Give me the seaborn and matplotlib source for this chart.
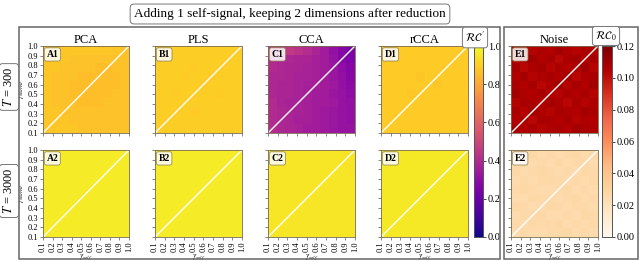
import numpy as np
import matplotlib
matplotlib.use("Agg")
import matplotlib.pyplot as plt
import seaborn as sns
from matplotlib.patches import Rectangle

plt.rcParams["font.family"] = ["Liberation Serif", "DejaVu Serif"]
plt.rcParams["mathtext.fontset"] = "stix"

# ---------------- data (rows: gamma_shared 1.0 -> 0.1, cols: gamma_self 0.1 -> 1.0)
tick_vals = [0.1, 0.2, 0.3, 0.4, 0.5, 0.6, 0.7, 0.8, 0.9, 1.0]
tick_labels = ["0.1", "0.2", "0.3", "0.4", "0.5", "0.6", "0.7", "0.8", "0.9", "1.0"]
methods = ["PCA", "PLS", "CCA", "rCCA"]

pca_300 = [
    [0.88, 0.88, 0.88, 0.88, 0.88, 0.88, 0.88, 0.88, 0.88, 0.87],
    [0.88, 0.88, 0.88, 0.87, 0.87, 0.87, 0.87, 0.87, 0.87, 0.87],
    [0.88, 0.88, 0.87, 0.87, 0.87, 0.87, 0.86, 0.86, 0.87, 0.87],
    [0.88, 0.87, 0.87, 0.87, 0.86, 0.86, 0.86, 0.86, 0.86, 0.87],
    [0.88, 0.87, 0.87, 0.86, 0.86, 0.86, 0.86, 0.86, 0.86, 0.87],
    [0.88, 0.87, 0.87, 0.86, 0.86, 0.86, 0.86, 0.86, 0.87, 0.87],
    [0.88, 0.87, 0.87, 0.87, 0.86, 0.86, 0.86, 0.87, 0.87, 0.87],
    [0.88, 0.88, 0.87, 0.87, 0.87, 0.87, 0.87, 0.87, 0.87, 0.87],
    [0.88, 0.88, 0.88, 0.87, 0.87, 0.87, 0.87, 0.87, 0.87, 0.87],
    [0.88, 0.88, 0.88, 0.88, 0.87, 0.87, 0.87, 0.87, 0.87, 0.87],
]
pls_300 = [
    [0.90, 0.90, 0.90, 0.90, 0.90, 0.90, 0.90, 0.90, 0.90, 0.90],
    [0.90, 0.90, 0.90, 0.90, 0.90, 0.90, 0.90, 0.90, 0.90, 0.90],
    [0.90, 0.90, 0.90, 0.90, 0.89, 0.90, 0.90, 0.90, 0.90, 0.90],
    [0.90, 0.90, 0.90, 0.89, 0.90, 0.90, 0.89, 0.90, 0.90, 0.90],
    [0.90, 0.90, 0.90, 0.90, 0.90, 0.89, 0.90, 0.90, 0.90, 0.90],
    [0.90, 0.90, 0.89, 0.90, 0.90, 0.90, 0.90, 0.89, 0.90, 0.90],
    [0.90, 0.90, 0.90, 0.90, 0.90, 0.90, 0.90, 0.90, 0.90, 0.90],
    [0.90, 0.90, 0.90, 0.90, 0.89, 0.90, 0.90, 0.90, 0.90, 0.90],
    [0.90, 0.90, 0.90, 0.90, 0.90, 0.90, 0.90, 0.90, 0.90, 0.90],
    [0.90, 0.90, 0.90, 0.90, 0.90, 0.90, 0.90, 0.90, 0.90, 0.90],
]
cca_300 = [
    [0.46, 0.46, 0.45, 0.43, 0.41, 0.38, 0.35, 0.31, 0.27, 0.24],
    [0.40, 0.39, 0.39, 0.38, 0.38, 0.36, 0.35, 0.32, 0.28, 0.25],
    [0.40, 0.39, 0.38, 0.38, 0.37, 0.36, 0.35, 0.33, 0.30, 0.27],
    [0.39, 0.39, 0.38, 0.37, 0.37, 0.36, 0.35, 0.33, 0.31, 0.28],
    [0.39, 0.38, 0.38, 0.37, 0.36, 0.36, 0.35, 0.34, 0.31, 0.29],
    [0.39, 0.38, 0.38, 0.37, 0.36, 0.35, 0.35, 0.33, 0.32, 0.30],
    [0.40, 0.38, 0.37, 0.37, 0.36, 0.35, 0.35, 0.34, 0.32, 0.31],
    [0.40, 0.39, 0.38, 0.37, 0.36, 0.35, 0.34, 0.33, 0.32, 0.31],
    [0.40, 0.39, 0.38, 0.36, 0.36, 0.35, 0.34, 0.33, 0.32, 0.31],
    [0.41, 0.39, 0.38, 0.37, 0.35, 0.35, 0.34, 0.33, 0.32, 0.32],
]
rcca_300 = [
    [0.89, 0.89, 0.89, 0.89, 0.89, 0.89, 0.89, 0.89, 0.89, 0.89],
    [0.89, 0.89, 0.89, 0.89, 0.89, 0.89, 0.89, 0.89, 0.89, 0.89],
    [0.89, 0.89, 0.89, 0.89, 0.89, 0.89, 0.89, 0.89, 0.89, 0.89],
    [0.89, 0.89, 0.89, 0.89, 0.88, 0.89, 0.89, 0.89, 0.89, 0.89],
    [0.89, 0.89, 0.89, 0.89, 0.89, 0.89, 0.88, 0.89, 0.89, 0.89],
    [0.89, 0.89, 0.89, 0.88, 0.89, 0.89, 0.89, 0.89, 0.89, 0.89],
    [0.89, 0.89, 0.89, 0.89, 0.89, 0.89, 0.89, 0.89, 0.89, 0.89],
    [0.89, 0.89, 0.89, 0.89, 0.89, 0.89, 0.89, 0.89, 0.89, 0.89],
    [0.89, 0.89, 0.89, 0.89, 0.89, 0.89, 0.89, 0.89, 0.89, 0.89],
    [0.89, 0.89, 0.89, 0.89, 0.89, 0.89, 0.89, 0.89, 0.89, 0.89],
]
pca_3000 = [[0.965] * 10 for _ in range(10)]
pls_3000 = [[0.965] * 10 for _ in range(10)]
cca_3000 = [
    [0.955, 0.955, 0.955, 0.955, 0.955, 0.955, 0.955, 0.955, 0.950, 0.950],
    [0.955, 0.955, 0.955, 0.955, 0.955, 0.955, 0.955, 0.955, 0.950, 0.950],
    [0.955, 0.955, 0.955, 0.955, 0.955, 0.955, 0.955, 0.955, 0.955, 0.950],
    [0.955, 0.955, 0.955, 0.955, 0.955, 0.955, 0.955, 0.955, 0.955, 0.955],
    [0.955, 0.955, 0.955, 0.955, 0.955, 0.955, 0.955, 0.955, 0.955, 0.955],
    [0.955, 0.955, 0.955, 0.955, 0.955, 0.955, 0.955, 0.955, 0.955, 0.955],
    [0.955, 0.955, 0.955, 0.955, 0.955, 0.955, 0.955, 0.955, 0.955, 0.955],
    [0.955, 0.955, 0.955, 0.955, 0.955, 0.955, 0.955, 0.955, 0.955, 0.955],
    [0.955, 0.955, 0.955, 0.955, 0.955, 0.955, 0.955, 0.955, 0.955, 0.955],
    [0.955, 0.955, 0.955, 0.955, 0.955, 0.955, 0.955, 0.955, 0.955, 0.955],
]
rcca_3000 = [[0.963] * 10 for _ in range(10)]
noise_300 = [
    [0.106, 0.108, 0.104, 0.107, 0.105, 0.109, 0.106, 0.104, 0.107, 0.105],
    [0.104, 0.107, 0.110, 0.105, 0.108, 0.103, 0.107, 0.109, 0.105, 0.108],
    [0.108, 0.103, 0.106, 0.109, 0.104, 0.107, 0.105, 0.106, 0.110, 0.104],
    [0.105, 0.109, 0.104, 0.106, 0.108, 0.105, 0.109, 0.103, 0.106, 0.107],
    [0.107, 0.105, 0.108, 0.103, 0.106, 0.110, 0.104, 0.108, 0.105, 0.109],
    [0.109, 0.106, 0.105, 0.108, 0.105, 0.104, 0.107, 0.105, 0.108, 0.104],
    [0.104, 0.108, 0.107, 0.105, 0.109, 0.106, 0.103, 0.107, 0.104, 0.106],
    [0.107, 0.104, 0.109, 0.106, 0.104, 0.108, 0.106, 0.105, 0.109, 0.107],
    [0.105, 0.107, 0.103, 0.108, 0.107, 0.105, 0.108, 0.104, 0.106, 0.105],
    [0.108, 0.105, 0.107, 0.104, 0.106, 0.107, 0.105, 0.109, 0.107, 0.106],
]
noise_3000 = [
    [0.026, 0.025, 0.027, 0.025, 0.026, 0.025, 0.026, 0.027, 0.025, 0.026],
    [0.025, 0.027, 0.025, 0.026, 0.025, 0.027, 0.025, 0.026, 0.026, 0.025],
    [0.027, 0.025, 0.026, 0.027, 0.026, 0.025, 0.026, 0.025, 0.027, 0.026],
    [0.025, 0.026, 0.025, 0.026, 0.027, 0.026, 0.025, 0.026, 0.025, 0.027],
    [0.026, 0.027, 0.026, 0.025, 0.025, 0.026, 0.027, 0.025, 0.026, 0.025],
    [0.025, 0.025, 0.027, 0.026, 0.026, 0.025, 0.026, 0.027, 0.025, 0.026],
    [0.027, 0.026, 0.025, 0.025, 0.027, 0.026, 0.025, 0.026, 0.026, 0.025],
    [0.025, 0.026, 0.026, 0.027, 0.025, 0.025, 0.026, 0.025, 0.027, 0.026],
    [0.026, 0.025, 0.027, 0.026, 0.026, 0.027, 0.025, 0.026, 0.025, 0.026],
    [0.025, 0.026, 0.025, 0.025, 0.026, 0.026, 0.027, 0.025, 0.026, 0.025],
]
rc_ticks = [0.0, 0.2, 0.4, 0.6, 0.8, 1.0]
noise_ticks = [0.00, 0.02, 0.04, 0.06, 0.08, 0.10, 0.12]

# ---------------- layout
W, H = 640, 261
fig = plt.figure(figsize=(W / 100, H / 100), dpi=100)


def ax_px(x0, y0, x1, y1):
    return fig.add_axes([x0 / W, 1 - y1 / H, (x1 - x0) / W, (y1 - y0) / H])


col_x = [(43, 129), (155, 242), (268, 355), (381, 468), (511, 598)]
row_y = [(46, 133), (150, 237)]
TS = 6


def draw(ax, data, cmap, vmin, vmax, label, title=None, ylab=False, xlab=False, cax=None):
    arr = np.array(data)
    n = arr.shape[0]
    sns.heatmap(arr, ax=ax, cmap=cmap, vmin=vmin, vmax=vmax,
                cbar=cax is not None, cbar_ax=cax,
                xticklabels=False, yticklabels=False)
    pos = [(v - 0.1) / 0.9 * n for v in tick_vals]
    ax.set_xticks(pos)
    ax.set_yticks([n - p for p in pos])
    ax.tick_params(axis="both", which="both", bottom=True, left=True,
                   length=2.5, width=0.5, color="#555555", pad=1,
                   labelsize=TS)
    if ylab:
        ax.set_yticklabels(tick_labels, rotation=0)
        ax.set_ylabel(r"$\gamma_{shared}$", fontsize=5.5, labelpad=1)
    else:
        ax.set_yticklabels([])
    if xlab:
        ax.set_xticklabels(tick_labels, rotation=90)
        ax.set_xlabel(r"$\gamma_{self}$", fontsize=5.5, labelpad=0)
    else:
        ax.set_xticklabels([])
    for s in ax.spines.values():
        s.set_visible(True)
        s.set_linewidth(0.6)
        s.set_color("#7a6a50")
    ax.plot([0, n], [n, 0], color="white", lw=1.0)
    ax.text(0.04, 0.955, label, transform=ax.transAxes, ha="left", va="top",
            fontsize=7, fontweight="bold",
            bbox=dict(boxstyle="round,pad=0.22", fc="white", ec="#8a7a50",
                      lw=0.6, alpha=0.85))
    if title:
        ax.set_title(title, fontsize=9, pad=2)


rows = [
    [pca_300, pls_300, cca_300, rcca_300, noise_300],
    [pca_3000, pls_3000, cca_3000, rcca_3000, noise_3000],
]
letters = ["A", "B", "C", "D", "E"]
cax1 = ax_px(474, 46, 483, 237)
cax2 = ax_px(602, 46, 612, 237)

for r in range(2):
    for c in range(5):
        ax = ax_px(col_x[c][0], row_y[r][0], col_x[c][1], row_y[r][1])
        if c < 4:
            cmap, vmin, vmax = "plasma", 0.0, 1.0
            cax = cax1 if (r == 0 and c == 0) else None
            title = methods[c] if r == 0 else None
        else:
            cmap, vmin, vmax = "OrRd", 0.0, 0.12
            cax = cax2 if r == 0 else None
            title = "Noise" if r == 0 else None
        draw(ax, rows[r][c], cmap, vmin, vmax, f"{letters[c]}{r + 1}",
             title=title, ylab=(c == 0), xlab=(r == 1), cax=cax)

for cax, ticks, fmt in [(cax1, rc_ticks, "{:.1f}"), (cax2, noise_ticks, "{:.2f}")]:
    cax.set_yticks(ticks)
    cax.set_yticklabels([fmt.format(t) for t in ticks])
    cax.tick_params(labelsize=7.5, length=2.5, width=0.5, pad=1, right=True)
    for s in cax.spines.values():
        s.set_visible(True)
        s.set_linewidth(0.6)
        s.set_color("#555555")

box_kw = dict(boxstyle="round,pad=0.25", fc="white", ec="#777777", lw=0.7)
fig.text(475 / W, 1 - 37.5 / H, r"$\mathcal{RC}'$", fontsize=8, ha="center",
         va="center", bbox=box_kw)
fig.text(606 / W, 1 - 36 / H, r"$\mathcal{RC}_0$", fontsize=8, ha="center",
         va="center", bbox=box_kw)

# row labels
fig.text(9 / W, 1 - 87 / H, r"$T$ = 300", rotation=90, fontsize=9,
         ha="center", va="center", bbox=dict(boxstyle="round,pad=0.25",
                                               fc="white", ec="#777777", lw=0.7))
fig.text(9 / W, 1 - 191 / H, r"$T$ = 3000", rotation=90, fontsize=9,
         ha="center", va="center", bbox=dict(boxstyle="round,pad=0.25",
                                               fc="white", ec="#777777", lw=0.7))

# title
fig.text(290 / W, 1 - 14 / H,
         "Adding 1 self-signal, keeping 2 dimensions after reduction",
         fontsize=9.5, ha="center", va="center",
         bbox=dict(boxstyle="round,pad=0.3", fc="white", ec="#777777", lw=0.7))

# group frames
for (x0, y0, x1, y1) in [(19, 27, 500, 259.3), (504, 27, 638, 259.3)]:
    fig.patches.append(Rectangle((x0 / W, 1 - y1 / H), (x1 - x0) / W, (y1 - y0) / H,
                                 transform=fig.transFigure, fill=False,
                                 ec="#666666", lw=1.1))

fig.savefig("out.png", dpi=100)
